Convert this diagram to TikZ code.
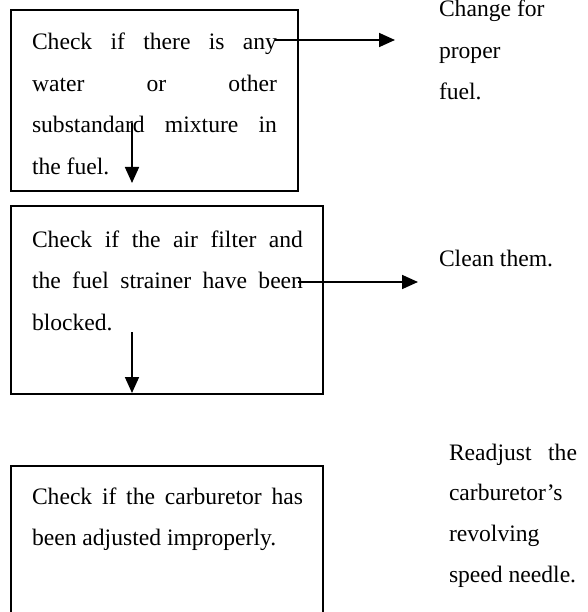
\documentclass[tikz,border=0pt]{standalone}
\usepackage{fontspec}
\setmainfont{Liberation Serif}
\usetikzlibrary{arrows.meta}
\begin{document}
\begin{tikzpicture}[x=1pt,y=-1pt,
  box/.style={draw, line width=1.3pt, inner sep=0pt, outer sep=0pt, anchor=north west},
  txt/.style={inner sep=0pt, outer sep=0pt, anchor=base west, font=\fontsize{23.6}{41}\selectfont},
  flow/.style={line width=1.7pt, -{Triangle[length=16pt,width=14pt]}}]
\useasboundingbox (0,0) rectangle (587,612);
\clip (0,0) rectangle (587,612);
% boxes
\node[box, minimum width=287pt, minimum height=181pt] (b1) at (11,10) {};
\node[box, minimum width=312pt, minimum height=188pt] (b2) at (11,206) {};
\node[box, minimum width=312pt, minimum height=180pt] (b3) at (11,466) {};
% box 1 text
\node[txt] (t11) at (32,50)  {\hbox to 245pt{Check\hfill if\hfill there\hfill is\hfill any}};
\node[txt] (t12) at (32,92)  {\hbox to 245pt{water\hfill or\hfill other}};
\node[txt] (t13) at (32,133) {\hbox to 245pt{substandard\hfill mixture\hfill in}};
\node[txt] (t14) at (32,175) {the fuel.};
% box 2 text
\node[txt] (t21) at (32,247) {\hbox to 271pt{Check\hfill if\hfill the\hfill air\hfill filter\hfill and}};
\node[txt] (t22) at (32,288) {\hbox to 271pt{the\hfill fuel\hfill strainer\hfill have\hfill been}};
\node[txt] (t23) at (32,330) {blocked.};
% box 3 text
\node[txt] (t31) at (32,504) {\hbox to 271pt{Check\hfill if\hfill the\hfill carburetor\hfill has}};
\node[txt] (t32) at (32,545) {been adjusted improperly.};
% right texts
\node[txt] (r11) at (439,17)  {Change for};
\node[txt] (r12) at (439,59)  {proper};
\node[txt] (r13) at (439,100) {fuel.};
\node[txt] (r21) at (439,266) {Clean them.};
\node[txt] (r31) at (449,460) {\hbox to 128pt{Readjust\hfill the}};
\node[txt] (r32) at (449,500) {carburetor’s};
\node[txt] (r33) at (449,541) {revolving};
\node[txt] (r34) at (449,582) {speed needle.};
% connector ends
\coordinate (a1s) at (275,40);
\coordinate (a1e) at (395,40);
\coordinate (a2s) at (132,123);
\coordinate (a2e) at (132,183);
\coordinate (a3s) at (298,282);
\coordinate (a3e) at (418,282);
\coordinate (a4s) at (132,332);
\coordinate (a4e) at (132,393);
\draw[flow] (a1s) -- (a1e);
\draw[flow] (a2s) -- (a2e);
\draw[flow] (a3s) -- (a3e);
\draw[flow] (a4s) -- (a4e);
\end{tikzpicture}
\end{document}
